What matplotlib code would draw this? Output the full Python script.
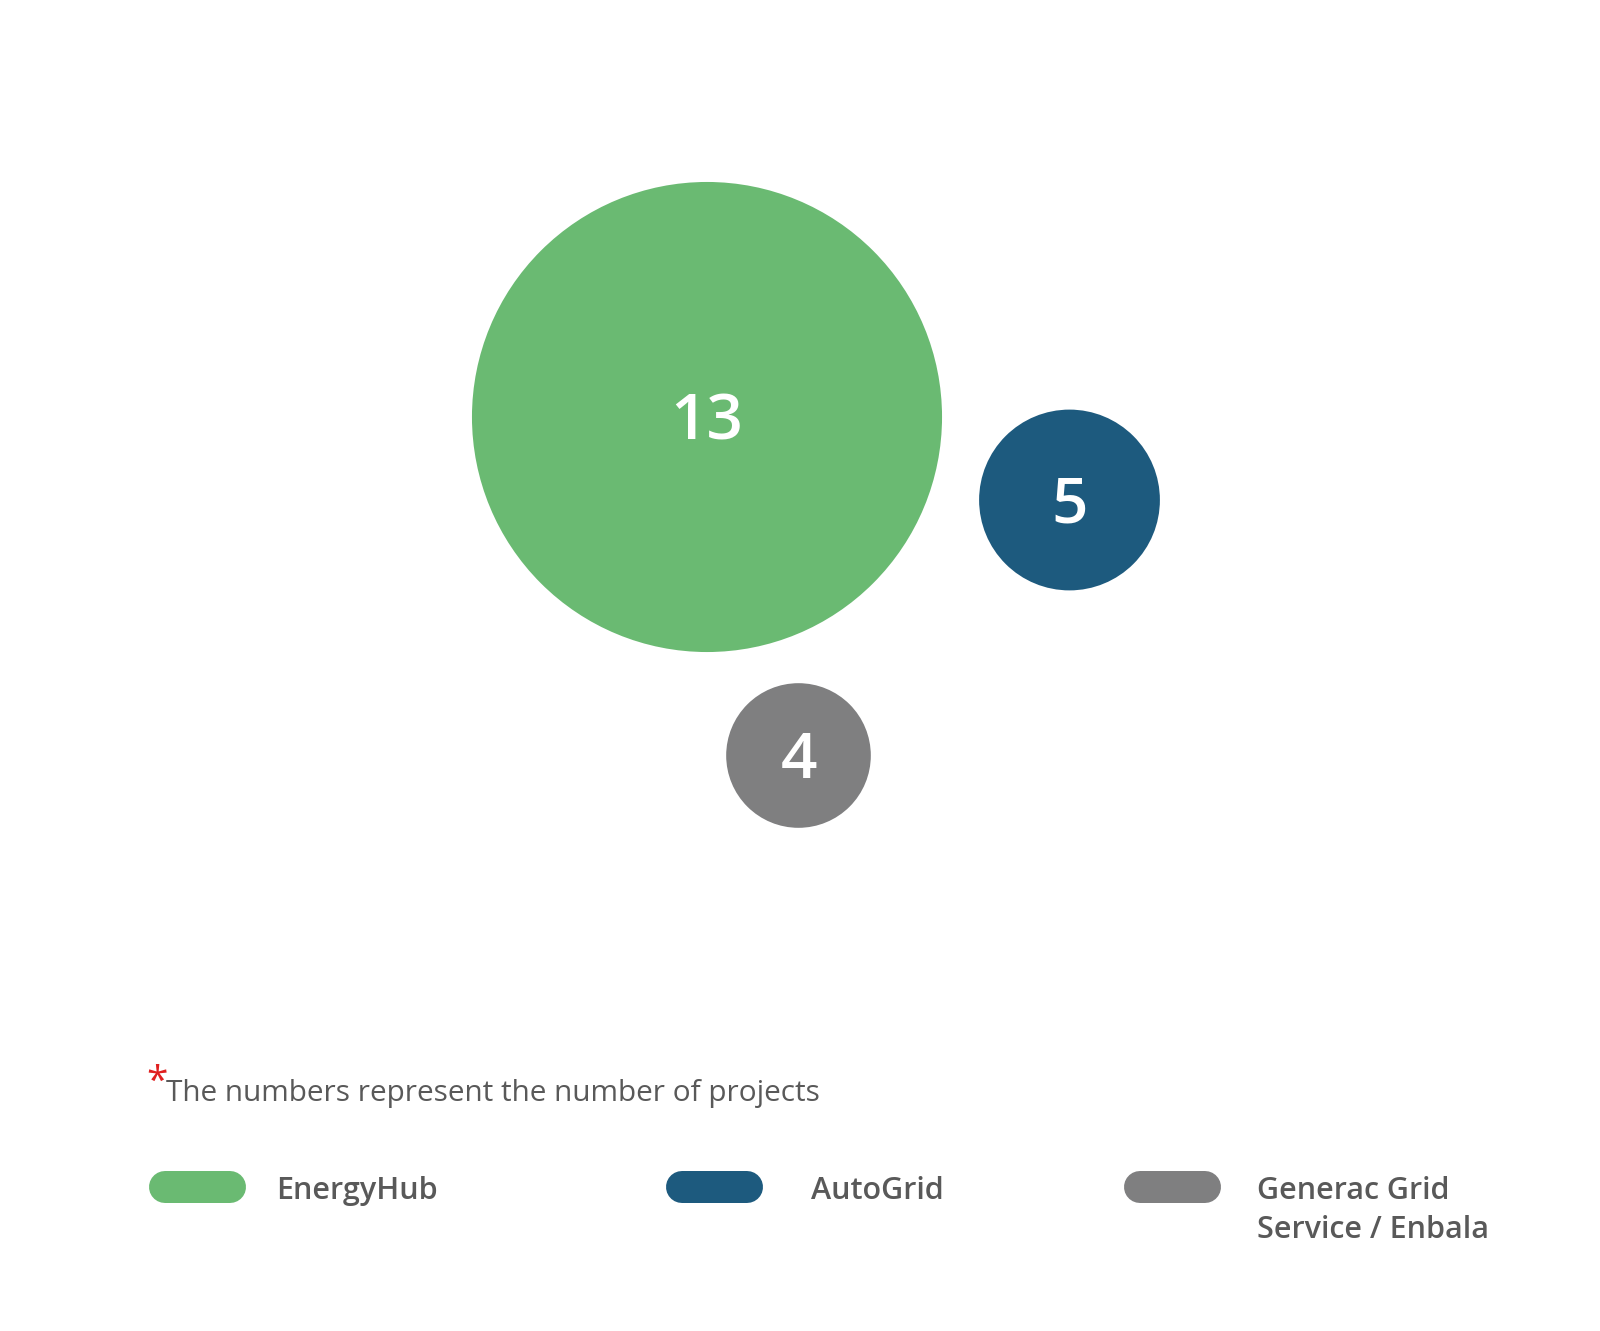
import matplotlib
matplotlib.use("Agg")
import matplotlib.pyplot as plt
from matplotlib.patches import Circle

# ---- data ----
categories = ["EnergyHub", "AutoGrid", "Generac Grid\nService / Enbala"]
projects = [13, 5, 4]
colors = ["#6aba72", "#1d5a7e", "#7f7f80"]
footnote = "The numbers represent the number of projects"

# ---- layout (pixel space) ----
W, H = 1600, 1331
bubble_centers = [(707, 417), (1069.5, 500), (798.5, 755.5)]
px_per_project = 18.08

fig = plt.figure(figsize=(W / 100, H / 100), dpi=100)
ax = fig.add_axes([0, 0, 1, 1])
ax.set_xlim(0, W)
ax.set_ylim(H, 0)
ax.set_aspect("equal")
ax.axis("off")

font = ["Open Sans", "DejaVu Sans"]
txt_color = "#595959"

for (cx, cy), v, c in zip(bubble_centers, projects, colors):
    ax.add_patch(Circle((cx, cy), v * px_per_project, facecolor=c, edgecolor="none"))
    ax.text(cx, cy + 6, str(v), ha="center", va="center", color="white",
            fontsize=46, fontweight="semibold", family=font)

# footnote
ax.text(146, 1083, "*", color="#e02020", fontsize=28, ha="left", va="center", family=font)
ax.text(166, 1093, footnote, color=txt_color, fontsize=21.4, ha="left", va="center",
        family=font)

# legend
pill_x = [149, 666, 1124]
text_x = [276, 811, 1257]
pill_w, pill_h, pill_cy = 97, 32, 1187
line_gap = 39
for px, tx, lab, c in zip(pill_x, text_x, categories, colors):
    ax.plot([px + pill_h / 2, px + pill_w - pill_h / 2], [pill_cy, pill_cy],
            color=c, linewidth=pill_h * 0.72, solid_capstyle="round")
    for i, line in enumerate(lab.split("\n")):
        ax.text(tx, 1191 + i * line_gap, line, color=txt_color, fontsize=22,
                fontweight="semibold", ha="left", va="center", family=font)

fig.savefig("out.png", dpi=100, facecolor="white")
